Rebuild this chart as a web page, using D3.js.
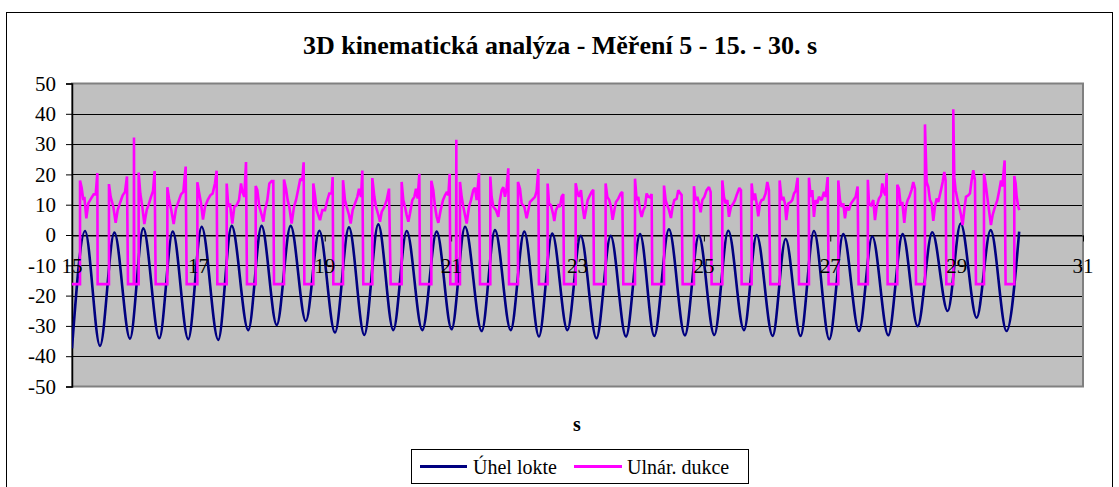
<!DOCTYPE html>
<html>
<head>
<meta charset="utf-8">
<script src="https://cdn.jsdelivr.net/npm/d3@7/dist/d3.min.js"></script>
<style>
  html, body { margin: 0; padding: 0; background: #fff; }
  svg { display: block; }
  svg text { font-family: "Liberation Serif", "DejaVu Serif", "Times New Roman", Times, serif !important; }
</style>
</head>
<body>
<svg id="chart" width="1119" height="487"></svg>
<script>
// ---------- data ----------
const chartTitle = "3D kinematická analýza - Měření 5 - 15. - 30. s";
const xAxisTitle = "s";
const seriesNames = ["Úhel lokte", "Ulnár. dukce"];
const xTicks = [15, 17, 19, 21, 23, 25, 27, 29, 31];
const yTicks = [-50, -40, -30, -20, -10, 0, 10, 20, 30, 40, 50];

// Úhel lokte: [time s, value] (peaks and troughs)
const elbowAngle = [
  [15.00,-37.4],[15.206,1.3],[15.443,-36.6],[15.67,0.8],[15.918,-34.2],[16.128,2.2],
  [16.382,-34.1],[16.594,1.1],[16.84,-34.4],[17.052,2.7],[17.315,-34.6],[17.527,3.0],
  [17.79,-31.4],[18.00,3.0],[18.24,-29.7],[18.46,3.0],[18.70,-28.4],[18.914,1.4],
  [19.162,-32.2],[19.383,2.5],[19.626,-33.0],[19.847,3.5],[20.085,-31.4],[20.297,1.3],
  [20.544,-31.4],[20.771,1.1],[21.008,-31.1],[21.22,2.7],[21.484,-31.7],[21.694,1.6],
  [21.943,-31.4],[22.158,1.1],[22.39,-33.5],[22.60,0.5],[22.84,-31.4],[23.05,-0.3],
  [23.30,-34.1],[23.525,-0.3],[23.767,-33.5],[23.99,0.3],[24.215,-33.3],[24.447,1.9],
  [24.70,-33.1],[24.92,-0.2],[25.165,-33.0],[25.386,1.4],[25.635,-31.4],[25.835,0.0],
  [26.088,-33.3],[26.294,-1.3],[26.53,-33.3],[26.742,1.3],[26.985,-34.4],[27.206,0.3],
  [27.455,-31.7],[27.665,-0.5],[27.918,-33.1],[28.146,0.3],[28.383,-30.1],[28.614,0.9],
  [28.858,-25.1],[29.064,3.8],[29.317,-27.3],[29.538,1.6],[29.79,-31.7],[29.99,1.1]
];

// Ulnár. dukce: [time s, value]
const ulnarDeviation = [
  [15.00,-16.2],[15.127,-16.2],[15.127,18.0],[15.153,15.6],[15.179,11.5],[15.195,12.6],[15.227,5.5],[15.258,10.4],[15.301,12.0],[15.343,13.4],[15.375,13.4],[15.401,20.4],[15.406,-16.2],
  [15.585,-16.2],[15.585,16.8],[15.612,12.6],[15.654,9.3],[15.691,4.0],[15.723,8.2],[15.765,10.9],[15.802,13.1],[15.839,14.2],[15.870,19.3],[15.886,-16.2],
  [15.978,-16.2],[15.981,32.2],[15.985,-16.2],
  [16.055,-16.2],[16.055,20.6],[16.081,13.7],[16.113,9.3],[16.145,3.6],[16.182,8.2],[16.219,10.4],[16.250,12.6],[16.282,14.5],[16.308,21.1],[16.324,-16.2],
  [16.509,-16.2],[16.509,15.8],[16.535,12.0],[16.567,8.7],[16.609,3.6],[16.646,8.7],[16.683,10.9],[16.725,13.4],[16.762,14.2],[16.799,22.6],[16.815,-16.2],
  [16.984,-16.2],[16.984,17.4],[17.010,14.2],[17.042,10.4],[17.073,5.1],[17.105,9.3],[17.147,11.5],[17.189,13.1],[17.226,13.7],[17.263,17.1],[17.289,21.2],[17.300,-16.2],
  [17.448,-16.2],[17.448,17.0],[17.474,9.3],[17.500,10.4],[17.537,3.8],[17.569,9.3],[17.606,9.8],[17.643,11.5],[17.675,17.0],[17.696,14.2],[17.727,12.6],[17.754,24.1],[17.769,-16.2],
  [17.907,-16.2],[17.907,16.2],[17.933,14.8],[17.965,9.3],[18.002,6.6],[18.028,4.4],[18.054,8.2],[18.091,11.5],[18.123,17.0],[18.160,17.8],[18.186,17.8],[18.197,-16.2],
  [18.355,-16.2],[18.355,18.3],[18.387,15.3],[18.413,11.5],[18.439,9.3],[18.476,3.8],[18.513,9.3],[18.545,11.5],[18.582,15.3],[18.613,18.6],[18.645,18.0],[18.666,24.0],[18.677,-16.2],
  [18.819,-16.2],[18.819,17.0],[18.846,13.1],[18.872,8.2],[18.925,4.9],[18.962,8.2],[19.004,8.2],[19.041,11.5],[19.072,13.7],[19.109,13.7],[19.125,19.1],[19.136,-16.2],
  [19.289,-16.2],[19.289,18.1],[19.320,11.5],[19.347,9.3],[19.384,6.6],[19.410,3.8],[19.442,8.2],[19.479,10.4],[19.516,12.6],[19.542,15.3],[19.574,12.6],[19.595,21.3],[19.610,-16.2],
  [19.753,-16.2],[19.753,18.8],[19.785,12.6],[19.811,9.3],[19.848,6.6],[19.874,4.4],[19.901,7.6],[19.943,9.3],[19.980,11.5],[20.017,15.3],[20.043,-16.2],
  [20.217,-16.2],[20.217,17.5],[20.243,11.5],[20.270,9.3],[20.296,6.6],[20.323,4.4],[20.349,7.1],[20.386,11.5],[20.418,12.6],[20.444,15.3],[20.470,12.0],[20.497,20.2],[20.507,-16.2],
  [20.687,-16.2],[20.687,17.9],[20.718,14.8],[20.745,9.3],[20.771,6.0],[20.797,4.0],[20.834,8.2],[20.871,11.5],[20.903,13.1],[20.934,14.2],[20.956,13.1],[20.977,20.2],[20.987,-16.2],
  [21.078,-16.2],[21.082,31.4],[21.086,-16.2],
  [21.140,-16.2],[21.140,17.5],[21.167,12.6],[21.193,9.3],[21.219,6.6],[21.246,3.8],[21.283,9.3],[21.314,11.5],[21.351,14.8],[21.378,15.6],[21.404,11.5],[21.441,20.4],[21.457,-16.2],
  [21.620,-16.2],[21.620,19.3],[21.641,12.6],[21.668,9.3],[21.710,8.2],[21.747,6.0],[21.773,11.5],[21.800,14.8],[21.826,15.8],[21.852,12.6],[21.879,15.6],[21.905,22.0],[21.916,-16.2],
  [22.058,-16.2],[22.058,17.5],[22.090,15.3],[22.116,10.4],[22.158,9.3],[22.195,5.5],[22.222,8.2],[22.248,10.9],[22.285,11.7],[22.327,12.6],[22.353,14.5],[22.380,21.8],[22.390,-16.2],
  [22.527,-16.2],[22.527,17.0],[22.549,10.4],[22.580,9.8],[22.617,6.6],[22.633,4.6],[22.659,8.2],[22.696,9.8],[22.723,9.3],[22.749,12.6],[22.775,13.5],[22.786,-16.2],
  [22.971,-16.2],[22.971,17.1],[22.997,14.2],[23.023,12.6],[23.055,14.8],[23.081,9.3],[23.108,5.3],[23.134,8.2],[23.161,11.5],[23.197,13.1],[23.224,14.2],[23.250,14.9],[23.261,-16.2],
  [23.445,-16.2],[23.445,17.0],[23.472,12.6],[23.503,11.5],[23.530,9.3],[23.556,5.0],[23.583,8.2],[23.609,10.9],[23.646,12.0],[23.683,13.7],[23.709,14.2],[23.725,-16.2],
  [23.910,-16.2],[23.910,18.6],[23.936,11.5],[23.962,12.6],[23.989,8.2],[24.015,6.0],[24.042,8.2],[24.068,9.3],[24.094,13.7],[24.121,12.6],[24.147,12.4],[24.173,13.5],[24.184,-16.2],
  [24.369,-16.2],[24.369,16.3],[24.395,11.5],[24.421,9.8],[24.448,8.2],[24.479,5.6],[24.506,9.3],[24.532,11.5],[24.569,12.0],[24.595,14.8],[24.622,13.9],[24.648,13.2],[24.664,-16.2],
  [24.843,-16.2],[24.843,16.1],[24.870,11.5],[24.896,12.6],[24.922,10.4],[24.949,7.5],[24.975,11.5],[25.007,12.6],[25.044,14.8],[25.081,15.8],[25.107,14.2],[25.123,-16.2],
  [25.292,-16.2],[25.292,18.0],[25.318,12.6],[25.344,10.4],[25.371,11.5],[25.397,6.0],[25.429,9.3],[25.466,10.4],[25.492,11.5],[25.518,13.1],[25.561,15.5],[25.587,14.8],[25.598,-16.2],
  [25.756,-16.2],[25.756,17.0],[25.782,11.5],[25.809,13.7],[25.835,10.4],[25.861,6.2],[25.888,10.4],[25.914,11.5],[25.941,11.7],[25.977,13.7],[26.004,17.5],[26.030,14.8],[26.051,-16.2],
  [26.199,-16.2],[26.199,18.0],[26.231,11.5],[26.257,12.6],[26.283,10.4],[26.304,4.9],[26.336,10.4],[26.373,10.9],[26.399,11.5],[26.426,13.7],[26.452,14.5],[26.484,18.9],[26.505,-16.2],
  [26.663,-16.2],[26.663,18.9],[26.690,12.6],[26.716,14.8],[26.742,6.0],[26.769,11.5],[26.795,10.4],[26.821,12.6],[26.864,11.5],[26.901,14.2],[26.927,12.6],[26.959,19.1],[26.974,-16.2],
  [27.127,-16.2],[27.127,18.0],[27.154,11.5],[27.180,9.3],[27.207,10.4],[27.233,5.5],[27.259,9.3],[27.296,8.2],[27.328,10.4],[27.365,11.5],[27.402,12.6],[27.433,16.0],[27.449,-16.2],
  [27.595,-16.2],[27.595,18.2],[27.613,10.4],[27.644,9.8],[27.681,11.5],[27.708,4.9],[27.734,9.3],[27.771,12.0],[27.803,13.1],[27.824,17.0],[27.850,14.2],[27.876,13.1],[27.892,20.4],[27.908,-16.2],
  [28.061,-16.2],[28.061,16.6],[28.087,15.3],[28.114,9.8],[28.140,10.9],[28.172,4.0],[28.198,9.3],[28.225,11.5],[28.251,12.6],[28.288,15.0],[28.314,17.5],[28.341,15.3],[28.357,-16.2],
  [28.499,-16.2],[28.499,36.5],[28.525,17.5],[28.552,15.8],[28.578,11.5],[28.605,10.4],[28.631,4.7],[28.657,9.3],[28.684,12.0],[28.710,10.9],[28.752,14.8],[28.779,17.5],[28.805,20.8],[28.826,18.0],[28.837,-16.2],
  [28.947,-16.2],[28.947,41.5],[28.963,19.1],[28.984,14.8],[29.016,11.5],[29.042,9.3],[29.069,6.6],[29.095,3.3],[29.121,8.2],[29.148,12.6],[29.185,13.1],[29.211,13.7],[29.237,18.0],[29.264,21.4],[29.290,18.0],[29.306,-16.2],
  [29.433,-16.2],[29.433,20.2],[29.459,17.0],[29.485,12.6],[29.512,8.2],[29.543,3.3],[29.570,6.6],[29.607,9.3],[29.644,11.5],[29.675,14.8],[29.702,18.0],[29.723,16.0],[29.760,24.6],[29.775,-16.2],
  [29.913,-16.2],[29.913,19.5],[29.934,17.0],[29.950,12.6],[29.976,9.3],[29.992,8.2]
];

// ---------- drawing ----------
const FONT = "'Liberation Serif', 'DejaVu Serif', 'Times New Roman', serif";
const svg = d3.select("#chart");

const x = d3.scaleLinear().domain([15, 31]).range([72, 1083]);
const y = d3.scaleLinear().domain([-50, 50]).range([386.5, 83.5]);

// outer frame
svg.append("rect").attr("x", 6.5).attr("y", 12.5).attr("width", 1106).attr("height", 490)
  .attr("fill", "#fff").attr("stroke", "#000").attr("stroke-width", 1);

// title
svg.append("text").attr("x", 560).attr("y", 54).attr("text-anchor", "middle")
  .attr("font-family", FONT).attr("font-size", 26).attr("font-weight", "bold").attr("fill", "#000").text(chartTitle);

// plot area
svg.append("rect").attr("x", x(15)).attr("y", y(50)).attr("width", x(31) - x(15)).attr("height", y(-50) - y(50))
  .attr("fill", "#C0C0C0");

// gridlines
svg.append("g").selectAll("line").data(yTicks.filter(d => d > -50 && d < 50)).join("line")
  .attr("x1", x(15)).attr("x2", x(31))
  .attr("y1", d => Math.round(y(d)) + 0.5).attr("y2", d => Math.round(y(d)) + 0.5)
  .attr("stroke", "#000").attr("stroke-width", 1);

// plot border (gray)
svg.append("rect").attr("x", x(15)).attr("y", y(50)).attr("width", x(31) - x(15)).attr("height", y(-50) - y(50))
  .attr("fill", "none").attr("stroke", "#808080").attr("stroke-width", 2);

// y axis
const yAxis = d3.axisLeft(y).tickValues(yTicks).tickSize(6).tickPadding(10).tickFormat(d3.format("d"));
const gy = svg.append("g").attr("transform", `translate(${x(15)},0)`).call(yAxis)
  .attr("font-family", FONT);
gy.select(".domain").attr("stroke", "#000").attr("stroke-width", 1.5);
gy.selectAll(".tick line").attr("stroke", "#000");
gy.selectAll(".tick text").attr("font-size", 21).attr("fill", "#000")
  .attr("font-family", FONT).attr("dy", "0.32em")
  .text(d => d < 0 ? "-" + Math.abs(d) : String(d));

// x axis at y = 0
const xAxis = d3.axisBottom(x).tickValues(xTicks).tickSize(6).tickSizeOuter(0).tickFormat(d3.format("d"));
const gx = svg.append("g").attr("transform", `translate(0,${Math.round(y(0)) + 0.5})`).call(xAxis);
gx.select(".domain").attr("stroke", "#000").attr("stroke-width", 1);
gx.selectAll(".tick line").attr("stroke", "#000");
gx.selectAll(".tick text").remove();

// series lines
svg.append("clipPath").attr("id", "plotclip").append("rect")
  .attr("x", x(15)).attr("y", y(50)).attr("width", x(31) - x(15)).attr("height", y(-50) - y(50));

const elbowLine = d3.line().x(d => x(d[0])).y(d => y(d[1])).curve(d3.curveMonotoneX);
const ulnarLine = d3.line().x(d => x(d[0])).y(d => y(d[1])).curve(d3.curveLinear);

svg.append("path").datum(elbowAngle).attr("d", elbowLine)
  .attr("fill", "none").attr("stroke", "#000080").attr("stroke-width", 2.6).attr("clip-path", "url(#plotclip)");
svg.append("path").datum(ulnarDeviation).attr("d", ulnarLine)
  .attr("fill", "none").attr("stroke", "#FF00FF").attr("stroke-width", 2.6)
  .attr("stroke-linejoin", "miter").attr("stroke-miterlimit", 2).attr("clip-path", "url(#plotclip)");

// x tick labels drawn on top
svg.append("g").selectAll("text").data(xTicks).join("text")
  .attr("x", d => x(d)).attr("y", 273).attr("text-anchor", "middle")
  .attr("font-family", FONT).attr("font-size", 21).attr("fill", "#000").text(d => d);

// x axis title
svg.append("text").attr("x", 577).attr("y", 431).attr("text-anchor", "middle")
  .attr("font-family", FONT).attr("font-size", 20).attr("font-weight", "bold").attr("fill", "#000").text(xAxisTitle);

// legend
const lg = svg.append("g");
lg.append("rect").attr("x", 411.5).attr("y", 449.5).attr("width", 337).attr("height", 34)
  .attr("fill", "#fff").attr("stroke", "#000").attr("stroke-width", 1);
const legendItems = [
  {name: seriesNames[0], color: "#000080", x0: 420, x1: 467, tx: 473},
  {name: seriesNames[1], color: "#FF00FF", x0: 574, x1: 622, tx: 627}
];
legendItems.forEach(it => {
  lg.append("line").attr("x1", it.x0).attr("x2", it.x1).attr("y1", 466.5).attr("y2", 466.5)
    .attr("stroke", it.color).attr("stroke-width", 3);
  lg.append("text").attr("x", it.tx).attr("y", 474).attr("font-family", FONT)
    .attr("font-size", 20).attr("fill", "#000").text(it.name);
});
</script>
</body>
</html>
